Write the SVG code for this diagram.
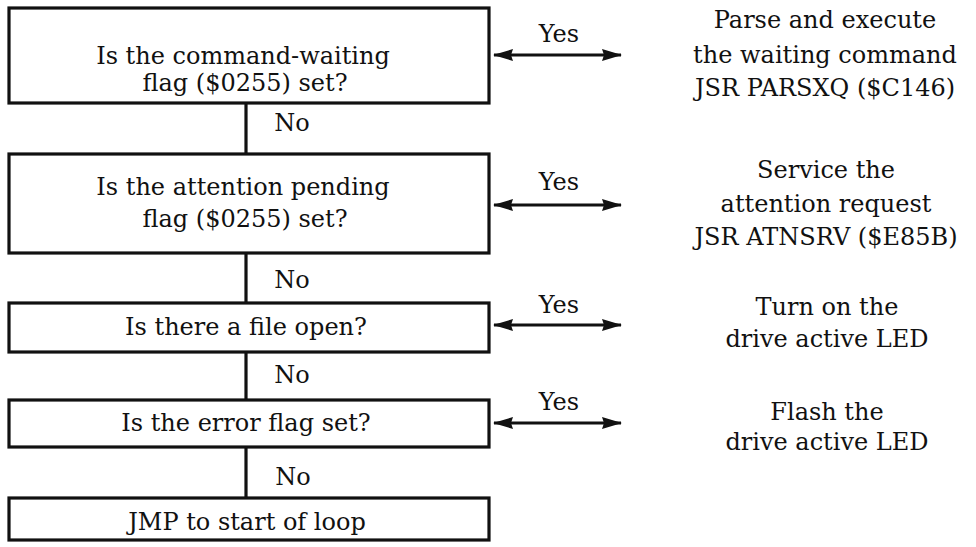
<svg xmlns="http://www.w3.org/2000/svg" width="976" height="547" viewBox="0 0 976 547">
<defs>
<marker id="ah" viewBox="0 0 20 12" refX="19" refY="6" markerWidth="20" markerHeight="12" markerUnits="userSpaceOnUse" orient="auto-start-reverse">
<path d="M0,0 L20,6 L0,12 L2,6 Z" fill="#111"/>
</marker>
<style>
.box{fill:#fff;stroke:#111;stroke-width:3.2}
.t{font-family:"DejaVu Serif","Liberation Serif",serif;font-size:24px;fill:#111;text-anchor:middle}
.ln{stroke:#111;stroke-width:3.2;fill:none}
.ar{stroke:#111;stroke-width:3.2;fill:none;marker-start:url(#ah);marker-end:url(#ah)}
</style>
</defs>
<g id="connectors">
<line class="ln" x1="246" y1="103" x2="246" y2="154"/>
<line class="ln" x1="246" y1="253" x2="246" y2="303"/>
<line class="ln" x1="246" y1="352" x2="246" y2="400"/>
<line class="ln" x1="246" y1="447" x2="246" y2="498"/>
<text class="t" x="292" y="131">No</text>
<text class="t" x="292" y="288">No</text>
<text class="t" x="292" y="383">No</text>
<text class="t" x="293" y="485">No</text>
<line class="ar" x1="494" y1="55" x2="621" y2="55"/>
<line class="ar" x1="494" y1="205" x2="621" y2="205"/>
<line class="ar" x1="494" y1="325" x2="621" y2="325"/>
<line class="ar" x1="494" y1="423" x2="621" y2="423"/>
<text class="t" x="559" y="42">Yes</text>
<text class="t" x="559" y="190">Yes</text>
<text class="t" x="559" y="313">Yes</text>
<text class="t" x="559" y="410">Yes</text>
</g>
<g id="n1">
<rect class="box" x="9" y="8" width="480" height="95"/>
<text class="t" x="243" y="64">Is the command-waiting</text>
<text class="t" x="245" y="91">flag ($0255) set?</text>
</g>
<g id="n2">
<rect class="box" x="9" y="154" width="480" height="99"/>
<text class="t" x="243" y="195">Is the attention pending</text>
<text class="t" x="245" y="227">flag ($0255) set?</text>
</g>
<g id="n3">
<rect class="box" x="9" y="303" width="480" height="49"/>
<text class="t" x="246" y="335">Is there a file open?</text>
</g>
<g id="n4">
<rect class="box" x="9" y="400" width="480" height="47"/>
<text class="t" x="246" y="431">Is the error flag set?</text>
</g>
<g id="n5">
<rect class="box" x="9" y="498" width="480" height="42"/>
<text class="t" x="247" y="530">JMP to start of loop</text>
</g>
<g id="r1">
<text class="t" x="825" y="28">Parse and execute</text>
<text class="t" x="825" y="63">the waiting command</text>
<text class="t" x="825" y="96">JSR PARSXQ ($C146)</text>
</g>
<g id="r2">
<text class="t" x="826" y="178">Service the</text>
<text class="t" x="826" y="212">attention request</text>
<text class="t" x="826" y="245">JSR ATNSRV ($E85B)</text>
</g>
<g id="r3">
<text class="t" x="827" y="315">Turn on the</text>
<text class="t" x="827" y="347">drive active LED</text>
</g>
<g id="r4">
<text class="t" x="827" y="420">Flash the</text>
<text class="t" x="827" y="450">drive active LED</text>
</g>
</svg>
